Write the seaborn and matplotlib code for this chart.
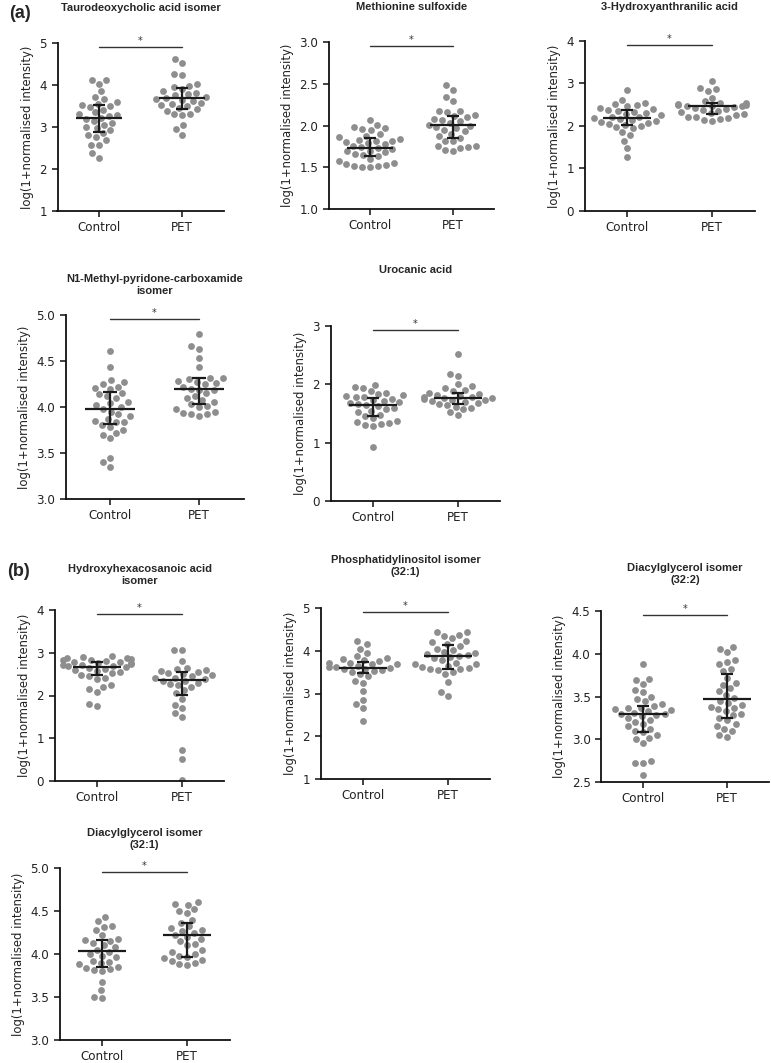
import matplotlib
matplotlib.use("Agg")

import pandas as pd
import matplotlib.pyplot as plt
import seaborn as sns


W, H = 771, 1063

GROUPS = ["Control", "PET"]
YLABEL = "log(1+normalised intensity)"
POINT_COLOR = "#8e8e8e"
LINE_COLOR = "#1a1a1a"

TITLES = [
    "Taurodeoxycholic acid isomer",
    "Methionine sulfoxide",
    "3-Hydroxyanthranilic acid",
    "N1-Methyl-pyridone-carboxamide\nisomer",
    "Urocanic acid",
    "Hydroxyhexacosanoic acid\nisomer",
    "Phosphatidylinositol isomer\n(32:1)",
    "Diacylglycerol isomer\n(32:2)",
    "Diacylglycerol isomer\n(32:1)",
]

YLIMS = [(1, 5), (1.0, 3.0), (0, 4), (3.0, 5.0), (0, 3), (0, 4), (1, 5), (2.5, 4.5), (3.0, 5.0)]
YSTEPS = [1, 0.5, 1, 0.5, 1, 1, 1, 0.5, 0.5]
YFORMATS = ["{:.0f}", "{:.1f}", "{:.0f}", "{:.1f}", "{:.0f}", "{:.0f}", "{:.0f}", "{:.1f}", "{:.1f}"]

# ---- values ----
tauro_control = [4.03, 4.12, 4.12, 3.85, 3.72, 3.67, 3.60, 3.55, 3.52, 3.50, 3.48, 3.40, 3.35, 3.30,
                 3.28, 3.27, 3.22, 3.20, 3.15, 3.10, 3.05, 3.00, 2.98, 2.92, 2.85, 2.82, 2.75, 2.68,
                 2.58, 2.58, 2.38, 2.27]
tauro_pet = [4.63, 4.52, 4.27, 4.23, 4.02, 3.97, 3.95, 3.90, 3.85, 3.82, 3.78, 3.75, 3.72, 3.68, 3.66,
             3.65, 3.62, 3.58, 3.55, 3.52, 3.50, 3.45, 3.42, 3.38, 3.32, 3.30, 3.28, 3.05, 2.95, 2.82]

metsulf_control = [2.06, 2.01, 1.98, 1.97, 1.96, 1.95, 1.90, 1.88, 1.86, 1.84, 1.83, 1.82, 1.82, 1.80,
                   1.79, 1.78, 1.76, 1.74, 1.73, 1.72, 1.70, 1.69, 1.68, 1.66, 1.65, 1.63, 1.60, 1.58,
                   1.55, 1.54, 1.53, 1.51, 1.51, 1.50, 1.50]
metsulf_pet = [2.48, 2.43, 2.34, 2.29, 2.17, 2.17, 2.16, 2.13, 2.11, 2.10, 2.08, 2.06, 2.05, 2.03, 2.01,
               2.00, 1.98, 1.97, 1.95, 1.93, 1.90, 1.88, 1.85, 1.82, 1.81, 1.76, 1.75, 1.74, 1.73,
               1.71, 1.69]

haa_control = [2.85, 2.62, 2.55, 2.52, 2.50, 2.47, 2.42, 2.40, 2.38, 2.35, 2.33, 2.30, 2.28, 2.25, 2.22,
               2.20, 2.18, 2.16, 2.15, 2.12, 2.10, 2.08, 2.05, 2.03, 2.00, 1.98, 1.95, 1.85, 1.78,
               1.65, 1.48, 1.28]
haa_pet = [3.07, 2.90, 2.87, 2.83, 2.67, 2.58, 2.55, 2.53, 2.52, 2.50, 2.49, 2.48, 2.47, 2.46, 2.45,
           2.42, 2.40, 2.38, 2.35, 2.32, 2.30, 2.28, 2.25, 2.22, 2.20, 2.18, 2.16, 2.15, 2.12]

n1m_control = [4.61, 4.43, 4.29, 4.27, 4.25, 4.22, 4.21, 4.20, 4.15, 4.14, 4.12, 4.10, 4.05, 4.04, 4.02,
               4.00, 3.98, 3.95, 3.92, 3.90, 3.87, 3.85, 3.84, 3.84, 3.80, 3.78, 3.75, 3.72, 3.70,
               3.66, 3.45, 3.40, 3.35]
n1m_pet = [4.79, 4.66, 4.63, 4.53, 4.44, 4.32, 4.31, 4.30, 4.28, 4.27, 4.26, 4.25, 4.22, 4.20, 4.19,
           4.18, 4.15, 4.12, 4.10, 4.08, 4.05, 4.03, 4.01, 4.00, 3.98, 3.95, 3.93, 3.92, 3.92, 3.90]

urocanic_control = [1.99, 1.96, 1.93, 1.88, 1.86, 1.84, 1.82, 1.80, 1.79, 1.78, 1.75, 1.74, 1.72, 1.70,
                    1.68, 1.66, 1.65, 1.63, 1.60, 1.58, 1.55, 1.52, 1.48, 1.45, 1.42, 1.38, 1.35,
                    1.33, 1.32, 1.30, 1.28, 0.92]
urocanic_pet = [2.52, 2.17, 2.14, 2.00, 1.97, 1.93, 1.90, 1.88, 1.86, 1.84, 1.82, 1.80, 1.79, 1.78,
                1.77, 1.76, 1.75, 1.74, 1.73, 1.72, 1.70, 1.68, 1.66, 1.64, 1.62, 1.60, 1.57, 1.52, 1.47]

hhca_control = [2.92, 2.90, 2.88, 2.87, 2.85, 2.84, 2.82, 2.80, 2.79, 2.78, 2.76, 2.75, 2.74, 2.72, 2.71,
                2.70, 2.68, 2.66, 2.65, 2.62, 2.60, 2.58, 2.55, 2.52, 2.48, 2.45, 2.42, 2.38, 2.25,
                2.20, 2.15, 2.08, 1.80, 1.75]
hhca_pet = [3.07, 3.06, 2.80, 2.65, 2.63, 2.60, 2.58, 2.55, 2.52, 2.50, 2.48, 2.45, 2.42, 2.40, 2.38,
            2.35, 2.33, 2.30, 2.28, 2.25, 2.20, 2.12, 2.05, 1.92, 1.78, 1.70, 1.58, 1.50, 0.73,
            0.52, 0.02]

pi_control = [4.22, 4.15, 4.05, 3.95, 3.88, 3.82, 3.80, 3.78, 3.75, 3.72, 3.71, 3.70, 3.68, 3.65, 3.62,
              3.61, 3.60, 3.58, 3.57, 3.55, 3.52, 3.50, 3.45, 3.40, 3.30, 3.25, 3.05, 2.85, 2.75,
              2.65, 2.35]
pi_pet = [4.45, 4.45, 4.38, 4.35, 4.30, 4.22, 4.20, 4.15, 4.10, 4.05, 4.02, 3.98, 3.95, 3.92, 3.90,
          3.88, 3.85, 3.82, 3.78, 3.72, 3.70, 3.68, 3.65, 3.62, 3.60, 3.58, 3.57, 3.55, 3.50,
          3.45, 3.28, 3.03, 2.93]

dag322_control = [3.88, 3.71, 3.69, 3.65, 3.58, 3.55, 3.50, 3.47, 3.45, 3.41, 3.39, 3.37, 3.36, 3.35,
                  3.34, 3.33, 3.31, 3.30, 3.29, 3.28, 3.27, 3.25, 3.22, 3.20, 3.18, 3.15, 3.12, 3.10,
                  3.08, 3.05, 3.02, 3.00, 2.96, 2.74, 2.72, 2.72, 2.58]
dag322_pet = [4.08, 4.06, 4.02, 3.93, 3.90, 3.88, 3.82, 3.80, 3.72, 3.66, 3.64, 3.60, 3.56, 3.52, 3.48,
              3.45, 3.42, 3.40, 3.38, 3.37, 3.35, 3.33, 3.30, 3.28, 3.25, 3.22, 3.18, 3.15, 3.12,
              3.10, 3.05, 3.03]

dag321_control = [4.43, 4.38, 4.32, 4.31, 4.28, 4.22, 4.17, 4.16, 4.15, 4.13, 4.10, 4.08, 4.05, 4.02,
                  4.00, 3.98, 3.96, 3.92, 3.91, 3.89, 3.88, 3.85, 3.84, 3.82, 3.81, 3.80, 3.68, 3.58,
                  3.50, 3.49]
dag321_pet = [4.60, 4.58, 4.57, 4.52, 4.50, 4.48, 4.40, 4.36, 4.32, 4.30, 4.28, 4.27, 4.25, 4.22, 4.20,
              4.18, 4.15, 4.12, 4.10, 4.05, 4.02, 4.00, 3.98, 3.97, 3.95, 3.93, 3.92, 3.90, 3.88, 3.87]

CONTROL = [tauro_control, metsulf_control, haa_control, n1m_control, urocanic_control,
           hhca_control, pi_control, dag322_control, dag321_control]
PET = [tauro_pet, metsulf_pet, haa_pet, n1m_pet, urocanic_pet,
       hhca_pet, pi_pet, dag322_pet, dag321_pet]

# median, 25th, 75th percentile as drawn (Control, PET)
MEDIAN = [(3.21, 3.68), (1.73, 2.01), (2.18, 2.46), (3.98, 4.20), (1.65, 1.77),
          (2.66, 2.37), (3.60, 3.87), (3.29, 3.47), (4.04, 4.22)]
Q1 = [(2.87, 3.42), (1.64, 1.85), (2.03, 2.29), (3.81, 4.03), (1.45, 1.67),
      (2.48, 2.01), (3.49, 3.58), (3.09, 3.25), (3.85, 3.97)]
Q3 = [(3.52, 3.92), (1.85, 2.11), (2.38, 2.54), (4.16, 4.31), (1.76, 1.86),
      (2.79, 2.54), (3.74, 4.13), (3.39, 3.76), (4.16, 4.36)]

# layout in pixels: x of Control, category spacing, axis top, axis bottom, title y
LAYOUT = [
    (99, 83, 43, 211, 8),
    (370, 83, 42, 209, 7),
    (627, 85, 41, 211, 7),
    (110, 89, 315, 499, 285),
    (373, 85, 326, 501, 270),
    (97, 85, 610, 781, 575),
    (363, 85, 608, 779, 566),
    (643, 84, 611, 782, 574),
    (102, 85, 868, 1040, 839),
]

SWARM_SIZE = 5.6   # spacing used to lay the dots out
DOT_SIZE = 4.9     # size the dots are drawn at (leaves a gap like the original)


def draw_panel(fig, i):
    cx, step, top, bottom, title_y = LAYOUT[i]
    left = cx - 0.5 * step
    ax = fig.add_axes([left / W, 1 - bottom / H, 2 * step / W, (bottom - top) / H])

    df = pd.DataFrame({
        "group": ["Control"] * len(CONTROL[i]) + ["PET"] * len(PET[i]),
        "value": CONTROL[i] + PET[i],
    })
    sns.swarmplot(data=df, x="group", y="value", order=GROUPS, color=POINT_COLOR,
                  size=SWARM_SIZE, linewidth=0, ax=ax, warn_thresh=1, zorder=1)

    for k in range(2):
        ax.hlines(MEDIAN[i][k], k - 0.28, k + 0.28, color=LINE_COLOR, lw=1.6, zorder=3)
        ax.vlines(k, Q1[i][k], Q3[i][k], color=LINE_COLOR, lw=1.6, zorder=3)
        ax.hlines([Q1[i][k], Q3[i][k]], k - 0.075, k + 0.075, color=LINE_COLOR, lw=1.6, zorder=3)

    lo, hi = YLIMS[i]
    ax.set_ylim(lo, hi)
    ax.set_xlim(-0.5, 1.5)
    ticks = []
    t = lo
    while t <= hi + 1e-9:
        ticks.append(round(t, 3))
        t += YSTEPS[i]
    ax.set_yticks(ticks)
    ax.set_yticklabels([YFORMATS[i].format(v) for v in ticks])

    # significance bar
    bar_y = lo + 0.978 * (hi - lo)
    ax.plot([0, 1], [bar_y, bar_y], color="#333333", lw=1.0, clip_on=False)
    ax.text(0.5, bar_y + 0.005 * (hi - lo), "*", ha="center", va="bottom", fontsize=7,
            color="#333333", clip_on=False)

    ax.set_xlabel("")
    ax.set_ylabel(YLABEL, fontsize=8.4, color="#222222", labelpad=4)
    ax.tick_params(axis="both", labelsize=8.6, colors="#222222", width=1.2, length=4, direction="out")
    for side in ["left", "bottom"]:
        ax.spines[side].set_linewidth(1.3)
        ax.spines[side].set_color("#111111")
    sns.despine(ax=ax)

    fig.text((cx + 0.5 * step) / W, 1 - title_y / H, TITLES[i], ha="center", va="center",
             fontsize=8.0, fontweight="bold", family="Liberation Sans", linespacing=1.2)
    return ax


def main() -> None:
    sns.set_style("ticks")
    plt.rcParams["font.family"] = ["DejaVu Sans"]

    fig = plt.figure(figsize=(W / 100, H / 100), dpi=100)
    axes = [draw_panel(fig, i) for i in range(len(TITLES))]

    fig.text(20 / W, 1 - 13 / H, "(a)", ha="center", va="center", fontsize=13,
             fontweight="bold", family="Liberation Sans")
    fig.text(19 / W, 1 - 572 / H, "(b)", ha="center", va="center", fontsize=13,
             fontweight="bold", family="Liberation Sans")

    # lay the swarms out once with the wider spacing, then freeze and shrink the dots
    fig.canvas.draw()
    for ax in axes:
        for coll in ax.collections:
            if "draw" in coll.__dict__:
                del coll.draw
                coll.set_sizes([DOT_SIZE ** 2])

    fig.savefig("out.png", dpi=100)
    plt.close(fig)


if __name__ == "__main__":
    main()
